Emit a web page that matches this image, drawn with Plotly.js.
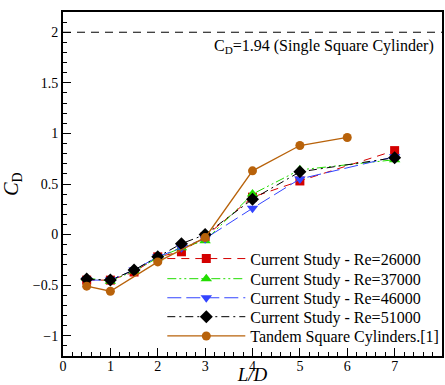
<!DOCTYPE html>
<html><head><meta charset="utf-8">
<script src="https://cdn.plot.ly/plotly-3.0.1.min.js"></script>
<style>html,body{margin:0;padding:0;background:#fff}#c{width:445px;height:385px}</style>
</head><body><div id="c"></div>
<script>
const xStudy = [0.5, 1, 1.5, 2, 2.5, 3, 4, 5, 7];
const re26000 = [-0.45, -0.45, -0.37, -0.22, -0.17, -0.02, 0.37, 0.53, 0.83];
const re37000 = [-0.43, -0.46, -0.36, -0.23, -0.13, -0.06, 0.40, 0.64, 0.74];
const re46000 = [-0.45, -0.45, -0.35, -0.22, -0.13, -0.04, 0.26, 0.55, 0.77];
const re51000 = [-0.44, -0.45, -0.35, -0.22, -0.09, 0.00, 0.35, 0.62, 0.76];
const xTandem = [0.5, 1, 2, 3, 4, 5, 6];
const tandem = [-0.51, -0.56, -0.27, -0.03, 0.63, 0.88, 0.96];
const singleCD = 2;
const names = ["Current Study - Re=26000","Current Study - Re=37000","Current Study - Re=46000","Current Study - Re=51000","Tandem Square Cylinders.[1]"];

const F = "Liberation Serif";
const traces = [
 {x:xStudy,y:re26000,name:names[0],legend:'legend',mode:'lines+markers',line:{color:'#d40000',width:1,dash:'8px,6px'},marker:{symbol:'square',size:9,color:'#d40000'}},
 {x:xStudy,y:re37000,name:names[1],legend:'legend2',mode:'lines+markers',line:{color:'#22dd00',width:1,dash:'9px,3px,2px,3px,2px,3px'},marker:{symbol:'triangle-up',size:10,color:'#22dd00'}},
 {x:xStudy,y:re46000,name:names[2],legend:'legend3',mode:'lines+markers',line:{color:'#3344ff',width:1,dash:'14px,5px'},marker:{symbol:'triangle-down',size:10,color:'#3344ff'}},
 {x:xStudy,y:re51000,name:names[3],legend:'legend4',mode:'lines+markers',line:{color:'#000000',width:1,dash:'8px,4px,2px,4px'},marker:{symbol:'diamond',size:10,color:'#000000'}},
 {x:xTandem,y:tandem,name:names[4],legend:'legend5',mode:'lines+markers',line:{color:'#b8620a',width:1.3},marker:{symbol:'circle',size:9,color:'#b8620a'}},
 {x:[0,8],y:[singleCD,singleCD],mode:'lines',showlegend:false,line:{color:'#000',width:1,dash:'8px,6px'},hoverinfo:'skip'}
];
const rowY = [0.283, 0.2245, 0.169, 0.114, 0.058];
function leg(y){return {x:0.262,y:y,xanchor:'left',yanchor:'middle',bgcolor:'rgba(0,0,0,0)',borderwidth:0,
  font:{family:F,size:16,color:'#000'},itemwidth:78};}
const layout = {
 width:445,height:385,
 margin:{l:63,r:3,t:12,b:29,autoexpand:false},
 paper_bgcolor:'#fff',plot_bgcolor:'#fff',
 font:{family:F,size:14,color:'#000'},
 showlegend:true,
 legend:leg(rowY[0]),legend2:leg(rowY[1]),legend3:leg(rowY[2]),legend4:leg(rowY[3]),legend5:leg(rowY[4]),
 xaxis:{range:[0,8],dtick:1,tick0:0,ticks:'inside',ticklen:8,tickwidth:1,tickcolor:'#000',
   minor:{dtick:0.2,ticks:'inside',ticklen:4,tickcolor:'#000'},
   showgrid:false,zeroline:false,showline:true,linewidth:2,linecolor:'#000',mirror:true,
   tickfont:{family:F,size:14},ticklabelstandoff:-4,
   title:{text:'<i>L/D</i>',font:{family:F,size:19},standoff:3},automargin:true},
 yaxis:{range:[-1.2,2.2],dtick:0.5,tick0:0,ticks:'inside',ticklen:8,tickwidth:1,tickcolor:'#000',
   minor:{dtick:0.1,ticks:'inside',ticklen:4,tickcolor:'#000'},
   showgrid:false,zeroline:false,showline:true,linewidth:2,linecolor:'#000',mirror:true,
   tickfont:{family:F,size:14},
   title:{text:'<i>C</i><sub>D</sub>',font:{family:F,size:20},standoff:10},automargin:true},
 annotations:[{xref:'paper',yref:'y',x:0.985,y:1.86,xanchor:'right',yanchor:'middle',showarrow:false,
   text:'C<sub>D</sub>=1.94 (Single Square Cylinder)',font:{family:F,size:16,color:'#000'}}]
};
Plotly.newPlot('c',traces,layout,{displayModeBar:false,staticPlot:true});
</script></body></html>
